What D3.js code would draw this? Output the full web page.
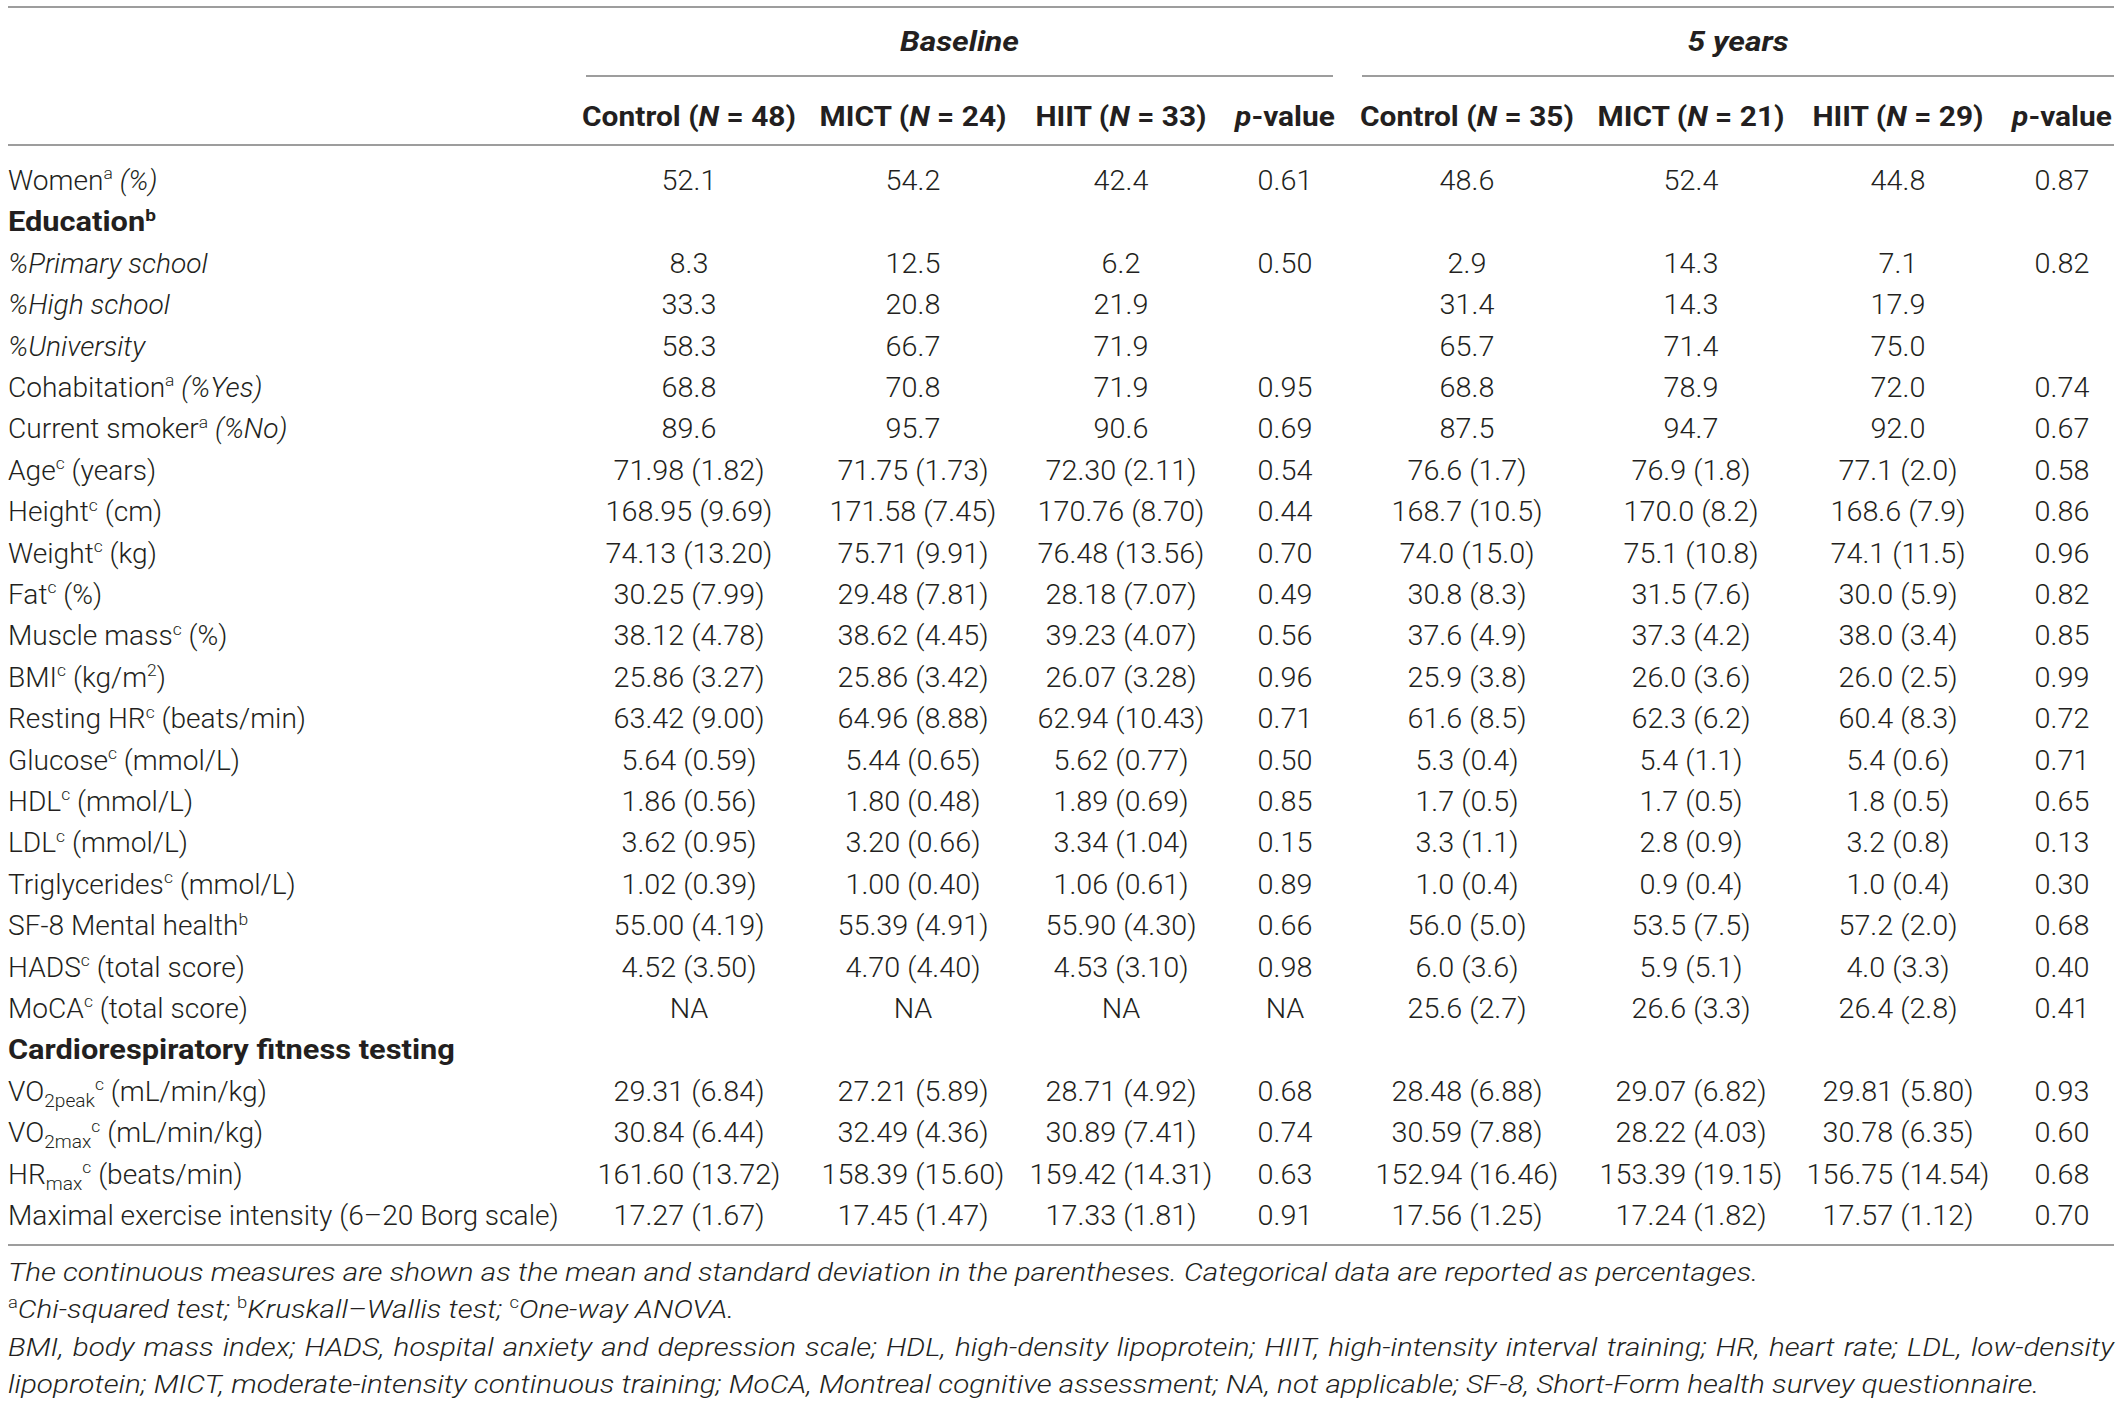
<!DOCTYPE html>
<html>
<head>
<meta charset="utf-8">
<script src="https://cdn.jsdelivr.net/npm/d3@7"></script>
<style>
  html, body { margin: 0; padding: 0; background: #fff; }
  svg text { font-family: Roboto, "Liberation Sans", sans-serif; fill: #231f20; }
</style>
</head>
<body>
<div id="wrapper"></div>
<script>
// markup: ^x^ superscript, ~x~ subscript, |x| italic
const rowLabels = [
  "Women^a^ |(%)|",
  "Education^b^",
  "|%Primary school|",
  "|%High school|",
  "|%University|",
  "Cohabitation^a^ |(%Yes)|",
  "Current smoker^a^ |(%No)|",
  "Age^c^ (years)",
  "Height^c^ (cm)",
  "Weight^c^ (kg)",
  "Fat^c^ (%)",
  "Muscle mass^c^ (%)",
  "BMI^c^ (kg/m^2^)",
  "Resting HR^c^ (beats/min)",
  "Glucose^c^ (mmol/L)",
  "HDL^c^ (mmol/L)",
  "LDL^c^ (mmol/L)",
  "Triglycerides^c^ (mmol/L)",
  "SF-8 Mental health^b^",
  "HADS^c^ (total score)",
  "MoCA^c^ (total score)",
  "Cardiorespiratory fitness testing",
  "VO~2peak~^c^ (mL/min/kg)",
  "VO~2max~^c^ (mL/min/kg)",
  "HR~max~^c^ (beats/min)",
  "Maximal exercise intensity (6–20 Borg scale)"
];
const sectionRows = [1, 21];

const groupLabels = ["Baseline", "5 years"];
const columnLabels = [
  "Control (|N| = 48)", "MICT (|N| = 24)", "HIIT (|N| = 33)", "|p|-value",
  "Control (|N| = 35)", "MICT (|N| = 21)", "HIIT (|N| = 29)", "|p|-value"
];

const controlBase = ["52.1", "", "8.3", "33.3", "58.3", "68.8", "89.6", "71.98 (1.82)", "168.95 (9.69)", "74.13 (13.20)", "30.25 (7.99)", "38.12 (4.78)", "25.86 (3.27)", "63.42 (9.00)", "5.64 (0.59)", "1.86 (0.56)", "3.62 (0.95)", "1.02 (0.39)", "55.00 (4.19)", "4.52 (3.50)", "NA", "", "29.31 (6.84)", "30.84 (6.44)", "161.60 (13.72)", "17.27 (1.67)"];
const mictBase = ["54.2", "", "12.5", "20.8", "66.7", "70.8", "95.7", "71.75 (1.73)", "171.58 (7.45)", "75.71 (9.91)", "29.48 (7.81)", "38.62 (4.45)", "25.86 (3.42)", "64.96 (8.88)", "5.44 (0.65)", "1.80 (0.48)", "3.20 (0.66)", "1.00 (0.40)", "55.39 (4.91)", "4.70 (4.40)", "NA", "", "27.21 (5.89)", "32.49 (4.36)", "158.39 (15.60)", "17.45 (1.47)"];
const hiitBase = ["42.4", "", "6.2", "21.9", "71.9", "71.9", "90.6", "72.30 (2.11)", "170.76 (8.70)", "76.48 (13.56)", "28.18 (7.07)", "39.23 (4.07)", "26.07 (3.28)", "62.94 (10.43)", "5.62 (0.77)", "1.89 (0.69)", "3.34 (1.04)", "1.06 (0.61)", "55.90 (4.30)", "4.53 (3.10)", "NA", "", "28.71 (4.92)", "30.89 (7.41)", "159.42 (14.31)", "17.33 (1.81)"];
const pBase = ["0.61", "", "0.50", "", "", "0.95", "0.69", "0.54", "0.44", "0.70", "0.49", "0.56", "0.96", "0.71", "0.50", "0.85", "0.15", "0.89", "0.66", "0.98", "NA", "", "0.68", "0.74", "0.63", "0.91"];
const control5 = ["48.6", "", "2.9", "31.4", "65.7", "68.8", "87.5", "76.6 (1.7)", "168.7 (10.5)", "74.0 (15.0)", "30.8 (8.3)", "37.6 (4.9)", "25.9 (3.8)", "61.6 (8.5)", "5.3 (0.4)", "1.7 (0.5)", "3.3 (1.1)", "1.0 (0.4)", "56.0 (5.0)", "6.0 (3.6)", "25.6 (2.7)", "", "28.48 (6.88)", "30.59 (7.88)", "152.94 (16.46)", "17.56 (1.25)"];
const mict5 = ["52.4", "", "14.3", "14.3", "71.4", "78.9", "94.7", "76.9 (1.8)", "170.0 (8.2)", "75.1 (10.8)", "31.5 (7.6)", "37.3 (4.2)", "26.0 (3.6)", "62.3 (6.2)", "5.4 (1.1)", "1.7 (0.5)", "2.8 (0.9)", "0.9 (0.4)", "53.5 (7.5)", "5.9 (5.1)", "26.6 (3.3)", "", "29.07 (6.82)", "28.22 (4.03)", "153.39 (19.15)", "17.24 (1.82)"];
const hiit5 = ["44.8", "", "7.1", "17.9", "75.0", "72.0", "92.0", "77.1 (2.0)", "168.6 (7.9)", "74.1 (11.5)", "30.0 (5.9)", "38.0 (3.4)", "26.0 (2.5)", "60.4 (8.3)", "5.4 (0.6)", "1.8 (0.5)", "3.2 (0.8)", "1.0 (0.4)", "57.2 (2.0)", "4.0 (3.3)", "26.4 (2.8)", "", "29.81 (5.80)", "30.78 (6.35)", "156.75 (14.54)", "17.57 (1.12)"];
const p5 = ["0.87", "", "0.82", "", "", "0.74", "0.67", "0.58", "0.86", "0.96", "0.82", "0.85", "0.99", "0.72", "0.71", "0.65", "0.13", "0.30", "0.68", "0.40", "0.41", "", "0.93", "0.60", "0.68", "0.70"];

const footnotes = [
  "|The continuous measures are shown as the mean and standard deviation in the parentheses. Categorical data are reported as percentages.|",
  "^a^|Chi-squared test; |^b^|Kruskall–Wallis test; |^c^|One-way ANOVA.|",
  "|BMI, body mass index; HADS, hospital anxiety and depression scale; HDL, high-density lipoprotein; HIIT, high-intensity interval training; HR, heart rate; LDL, low-density|",
  "|lipoprotein; MICT, moderate-intensity continuous training; MoCA, Montreal cognitive assessment; NA, not applicable; SF-8, Short-Form health survey questionnaire.|"
];
const justifiedNotes = [2];

function drawTable() {
  const dimensions = {
    width: 2121,
    height: 1405,
    left: 8,
    right: 2114,
  };

  // text styles: size, weight, plus a sample string and its printed width to set the condense factor
  const styles = {
    value:   { size: 27,   weight: 300, sample: "161.60 (13.72)", width: 183 },
    label:   { size: 28,   weight: 300, sample: rowLabels[25], width: 551 },
    section: { size: 28,   weight: 700, sample: rowLabels[21], width: 447 },
    head:    { size: 28,   weight: 700, sample: columnLabels[0], width: 214 },
    group:   { size: 28,   weight: 700, sample: "|Baseline|", width: 119 },
    note:    { size: 26,   weight: 300, sample: footnotes[0], width: 1751 },
  };

  const columns = [controlBase, mictBase, hiitBase, pBase, control5, mict5, hiit5, p5];
  const columnKeys = d3.range(columns.length);

  const svg = d3.select("#wrapper").append("svg")
    .attr("width", dimensions.width)
    .attr("height", dimensions.height);

  // scales
  const xScale = d3.scaleOrdinal()
    .domain(columnKeys)
    .range([689, 913, 1121, 1285, 1467, 1691, 1898, 2062]);
  const groupScale = d3.scaleOrdinal()
    .domain([0, 1])
    .range([[586, 1333], [1362, 2114]]);
  const yScale = d3.scalePoint()
    .domain(d3.range(rowLabels.length))
    .range([190, 1225]);
  const noteY = d3.scalePoint()
    .domain(d3.range(footnotes.length))
    .range([1281, 1393]);

  // rich text helper
  function rich(sel, markup, fs) {
    const parts = markup.split(/(\^[^^]*\^|~[^~]*~|\|[^|]*\|)/).filter(s => s.length);
    let shift = 0;
    parts.forEach(p => {
      const t = sel.append("tspan");
      let target = 0;
      let txt = p;
      if (p[0] === "^") { txt = p.slice(1, -1); target = -fs * 0.38; t.attr("font-size", fs * 0.62).attr("font-style", "normal"); }
      else if (p[0] === "~") { txt = p.slice(1, -1); target = fs * 0.22; t.attr("font-size", fs * 0.68); }
      else if (p[0] === "|") { txt = p.slice(1, -1); t.attr("font-style", "italic"); }
      t.attr("dy", target - shift).text(txt);
      shift = target;
    });
  }

  function makeText(g, markup, style) {
    const t = g.append("text")
      .attr("dy", "0.36em")
      .attr("font-size", style.size)
      .attr("font-weight", style.weight);
    rich(t, markup, style.size);
    return t;
  }

  // condense factor per style, measured once
  const probe = svg.append("g");
  Object.values(styles).forEach(s => {
    const t = makeText(probe, s.sample, s);
    s.k = s.width / t.node().getComputedTextLength();
  });
  probe.remove();

  function addText(g, x, y, markup, style, anchor) {
    const t = makeText(g, markup, style)
      .attr("text-anchor", anchor || "start")
      .attr("transform", `translate(${x},${y}) scale(${style.k},1)`);
    return t;
  }

  // rules
  const rules = svg.append("g").attr("stroke", "#9d9d9d").attr("stroke-width", 2);
  [7, 145, 1245].forEach(y => {
    rules.append("line")
      .attr("x1", dimensions.left).attr("x2", dimensions.right)
      .attr("y1", y).attr("y2", y);
  });
  rules.selectAll(".group-rule")
    .data(groupLabels)
    .join("line")
    .attr("class", "group-rule")
    .attr("x1", (d, i) => groupScale(i)[0])
    .attr("x2", (d, i) => groupScale(i)[1])
    .attr("y1", 76).attr("y2", 76);

  // header
  const header = svg.append("g");
  groupLabels.forEach((g, i) => {
    const [a, b] = groupScale(i);
    addText(header, (a + b) / 2, 51, "|" + g + "|", styles.group, "middle");
  });
  columnLabels.forEach((c, i) => {
    addText(header, xScale(i), 126, c, styles.head, "middle");
  });

  // body
  const body = svg.append("g");
  rowLabels.forEach((label, r) => {
    const bold = sectionRows.includes(r);
    addText(body, dimensions.left, yScale(r), label, bold ? styles.section : styles.label);
    columns.forEach((col, c) => {
      if (col[r]) addText(body, xScale(c), yScale(r), col[r], styles.value, "middle");
    });
  });

  // footnotes
  const notes = svg.append("g");
  footnotes.forEach((n, i) => {
    const t = addText(notes, dimensions.left, noteY(i), n, styles.note);
    if (justifiedNotes.includes(i)) {
      const len = t.node().getComputedTextLength();
      const spaces = (n.match(/ /g) || []).length;
      const room = (dimensions.right - dimensions.left) / styles.note.k - len;
      t.attr("word-spacing", Math.max(0, room / spaces));
    }
  });
}
drawTable();
</script>
</body>
</html>
